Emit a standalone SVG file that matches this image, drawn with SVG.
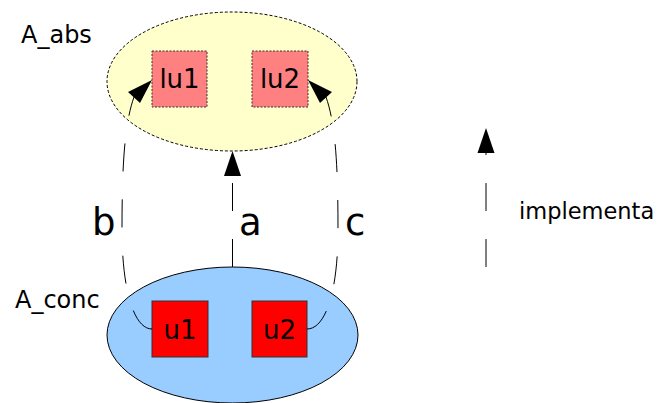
<svg xmlns="http://www.w3.org/2000/svg" width="661" height="403" viewBox="0 0 661 403">
<style>
text{font-family:"DejaVu Sans","Liberation Sans",sans-serif;fill:#000}
.lbl{font-size:24px}
.big{font-size:37px}
.box{font-size:26px;text-anchor:middle}
.conn{fill:none;stroke:#000;stroke-width:1;stroke-dasharray:28 28}
.head{fill:#000;stroke:none}
</style>
<defs>
<path id="ah" d="M0,0 L-8.5,25 L8.5,25 Z"/>
</defs>
<rect width="661" height="403" fill="#fff"/>
<g id="A_abs">
<ellipse cx="232" cy="81.5" rx="125" ry="69.5" fill="#ffffcc" stroke="#000" stroke-width="1" stroke-dasharray="3 2"/>
<text class="lbl" x="21" y="43">A_abs</text>
</g>
<g id="lu1">
<rect x="152" y="51" width="55" height="56" fill="#ff8080" stroke="#333" stroke-width="1" stroke-dasharray="2 1.5"/>
<text class="box" x="179.5" y="88">lu1</text>
</g>
<g id="lu2">
<rect x="252" y="51" width="56" height="56" fill="#ff8080" stroke="#333" stroke-width="1" stroke-dasharray="2 1.5"/>
<text class="box" x="280" y="88">lu2</text>
</g>
<g id="A_conc">
<ellipse cx="232.5" cy="335" rx="125.5" ry="68" fill="#99ccff" stroke="#000" stroke-width="1"/>
<text class="lbl" x="15" y="308">A_conc</text>
</g>
<g id="u1">
<rect x="152" y="301" width="56" height="56" fill="#ff0000" stroke="#333" stroke-width="1"/>
<text class="box" x="180" y="339">u1</text>
</g>
<g id="u2">
<rect x="252" y="301" width="55" height="56" fill="#ff0000" stroke="#333" stroke-width="1"/>
<text class="box" x="279.5" y="339">u2</text>
</g>
<g id="connectors">
<path class="conn" d="M232.5,267 L232.5,176"/>
<use href="#ah" x="232.5" y="151"/>
<text class="big" x="239" y="235">a</text>
<path class="conn" d="M152,329 C134,329 122,290 122,230 C122,170 124,125 134,97"/>
<polygon class="head" points="152,80 128,92 140,103"/>
<text class="big" x="92" y="235">b</text>
<path class="conn" d="M307,329 C326,329 338,290 338,230 C338,170 336,125 326,97"/>
<polygon class="head" points="308,80 332,92 320,103"/>
<text class="big" x="345" y="235">c</text>
</g>
<g id="legend">
<path class="conn" d="M486,267 L486,153"/>
<use href="#ah" x="486" y="128"/>
<text style="font-size:22.5px" x="519" y="219">implementa</text>
</g>
</svg>
